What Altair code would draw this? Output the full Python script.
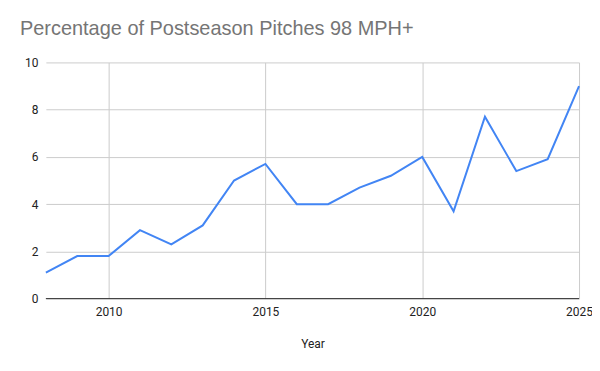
import altair as alt
import pandas as pd

years = [2008, 2009, 2010, 2011, 2012, 2013, 2014, 2015, 2016, 2017,
         2018, 2019, 2020, 2021, 2022, 2023, 2024, 2025]
pct = [1.1, 1.8, 1.8, 2.9, 2.3, 3.1, 5.0, 5.7, 4.0, 4.0,
       4.7, 5.2, 6.0, 3.7, 7.7, 5.4, 5.9, 9.0]
x_ticks = [2010, 2015, 2020, 2025]
y_ticks = [0, 2, 4, 6, 8, 10]

df = pd.DataFrame({"Year": years, "Pct": pct})

line = alt.Chart(df).mark_line(color="#4285F4", strokeWidth=2, clip=False).encode(
    x=alt.X("Year:Q", scale=alt.Scale(domain=[2008, 2025], nice=False, zero=False),
            axis=alt.Axis(values=x_ticks, format="d", title="Year", grid=True,
                          gridColor="#cccccc", domain=False, ticks=False,
                          labelPadding=8, titlePadding=21, labelFontSize=12,
                          titleFontSize=12, labelColor="#222222", titleColor="#222222",
                          labelFont="Roboto", titleFont="Roboto", titleFontWeight="normal",
                          labelFlush=False)),
    y=alt.Y("Pct:Q", scale=alt.Scale(domain=[0, 10], nice=False),
            axis=alt.Axis(values=y_ticks, title=None, grid=True, gridColor="#cccccc",
                          domain=False, ticks=False, labelPadding=8, labelFontSize=12,
                          labelColor="#222222", labelFont="Roboto")),
)

base_rule = alt.Chart(pd.DataFrame({"y": [0]})).mark_rule(color="#333333", strokeWidth=1).encode(
    y=alt.Y("y:Q", scale=alt.Scale(domain=[0, 10], nice=False))
)

chart = alt.layer(base_rule, line).properties(
    width=535,
    height=237,
    autosize=alt.AutoSizeParams(type="none"),
    padding={"left": 38, "top": 54, "right": 13, "bottom": 62},
    title=alt.TitleParams(
        "Percentage of Postseason Pitches 98 MPH+",
        anchor="start", frame="group", dx=-26, offset=18,
        fontSize=20, font="Liberation Sans", fontWeight="normal", color="#757575",
    ),
).configure_view(stroke=None)

chart.save("out.html", embed_options={"renderer": "svg", "actions": False})
